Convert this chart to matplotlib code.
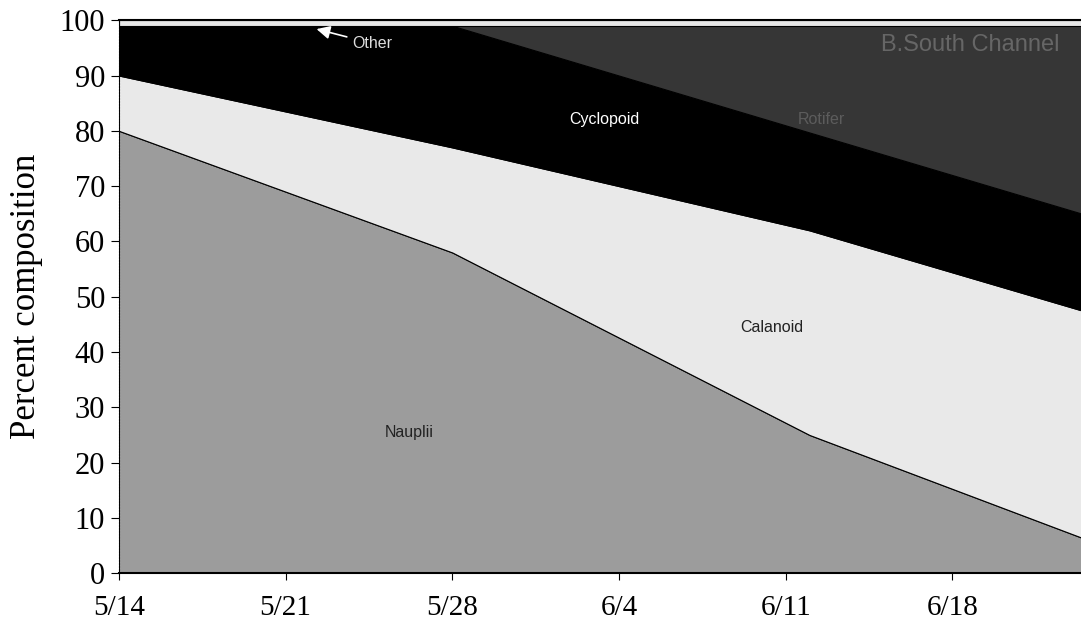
import numpy as np
import matplotlib.pyplot as plt

# sampling days (days after 5/14) and percent composition
days = [0, 14, 29, 41]
nauplii = [80.0, 58.0, 25.0, 5.5]
calanoid = [10.0, 19.0, 37.0, 41.3]
cyclopoid = [9.0, 22.0, 17.7, 17.5]
rotifer = [0.0, 0.0, 19.3, 34.7]
other = [1.0, 1.0, 1.0, 1.0]

tick_days = [0, 7, 14, 21, 28, 35]
tick_labels = ['5/14', '5/21', '5/28', '6/4', '6/11', '6/18']

fig = plt.figure(figsize=(10.81, 6.32), dpi=100)
ax = fig.add_axes([0.110, 0.093, 0.89, 0.875])

colors = ['#9c9c9c', '#e9e9e9', '#000000', '#363636', '#e8e8e8']
ax.stackplot(days, nauplii, calanoid, cyclopoid, rotifer, other,
             colors=colors, edgecolor='black', linewidth=0.8)

ax.set_xlim(0, 40.4)
ax.set_ylim(0, 100)
ax.set_yticks(range(0, 101, 10))
ax.set_xticks(tick_days)
ax.set_xticklabels(tick_labels)

serif = 'Liberation Serif'
for lab in ax.get_xticklabels():
    lab.set_family(serif)
    lab.set_fontsize(21)
for lab in ax.get_yticklabels():
    lab.set_family(serif)
    lab.set_fontsize(22)
ax.set_ylabel('Percent composition', family=serif, fontsize=25, labelpad=12)

ax.tick_params(axis='y', length=6, width=0.8, direction='out', pad=4)
ax.tick_params(axis='x', length=5, width=0.8, direction='out', pad=11)
ax.spines['left'].set_linestyle(':')
ax.spines['right'].set_visible(False)
ax.spines['top'].set_linewidth(1.5)
ax.spines['bottom'].set_linewidth(1.5)

# labels inside the areas
sans = 'Liberation Sans'
ax.text(12.2, 25.5, 'Nauplii', family=sans, fontsize=11.5, color='#222222', ha='center', va='center')
ax.text(27.4, 44.5, 'Calanoid', family=sans, fontsize=11.5, color='#222222', ha='center', va='center')
ax.text(20.4, 82.0, 'Cyclopoid', family=sans, fontsize=11.5, color='white', ha='center', va='center')
ax.text(29.5, 82.0, 'Rotifer', family=sans, fontsize=11.5, color='#5c5c5c', ha='center', va='center')
ax.text(32.0, 95.5, 'B.South Channel', family=sans, fontsize=17, color='#666666',
        ha='left', va='center', clip_on=True)
ax.annotate('Other', xy=(8.3, 98.4), xytext=(9.8, 95.8), family=sans, fontsize=11.5,
            color='#dddddd', va='center',
            arrowprops=dict(arrowstyle='-|>', color='white', lw=1.2, mutation_scale=20,
                            shrinkA=2, shrinkB=0))

fig.savefig('out.png', dpi=100)
